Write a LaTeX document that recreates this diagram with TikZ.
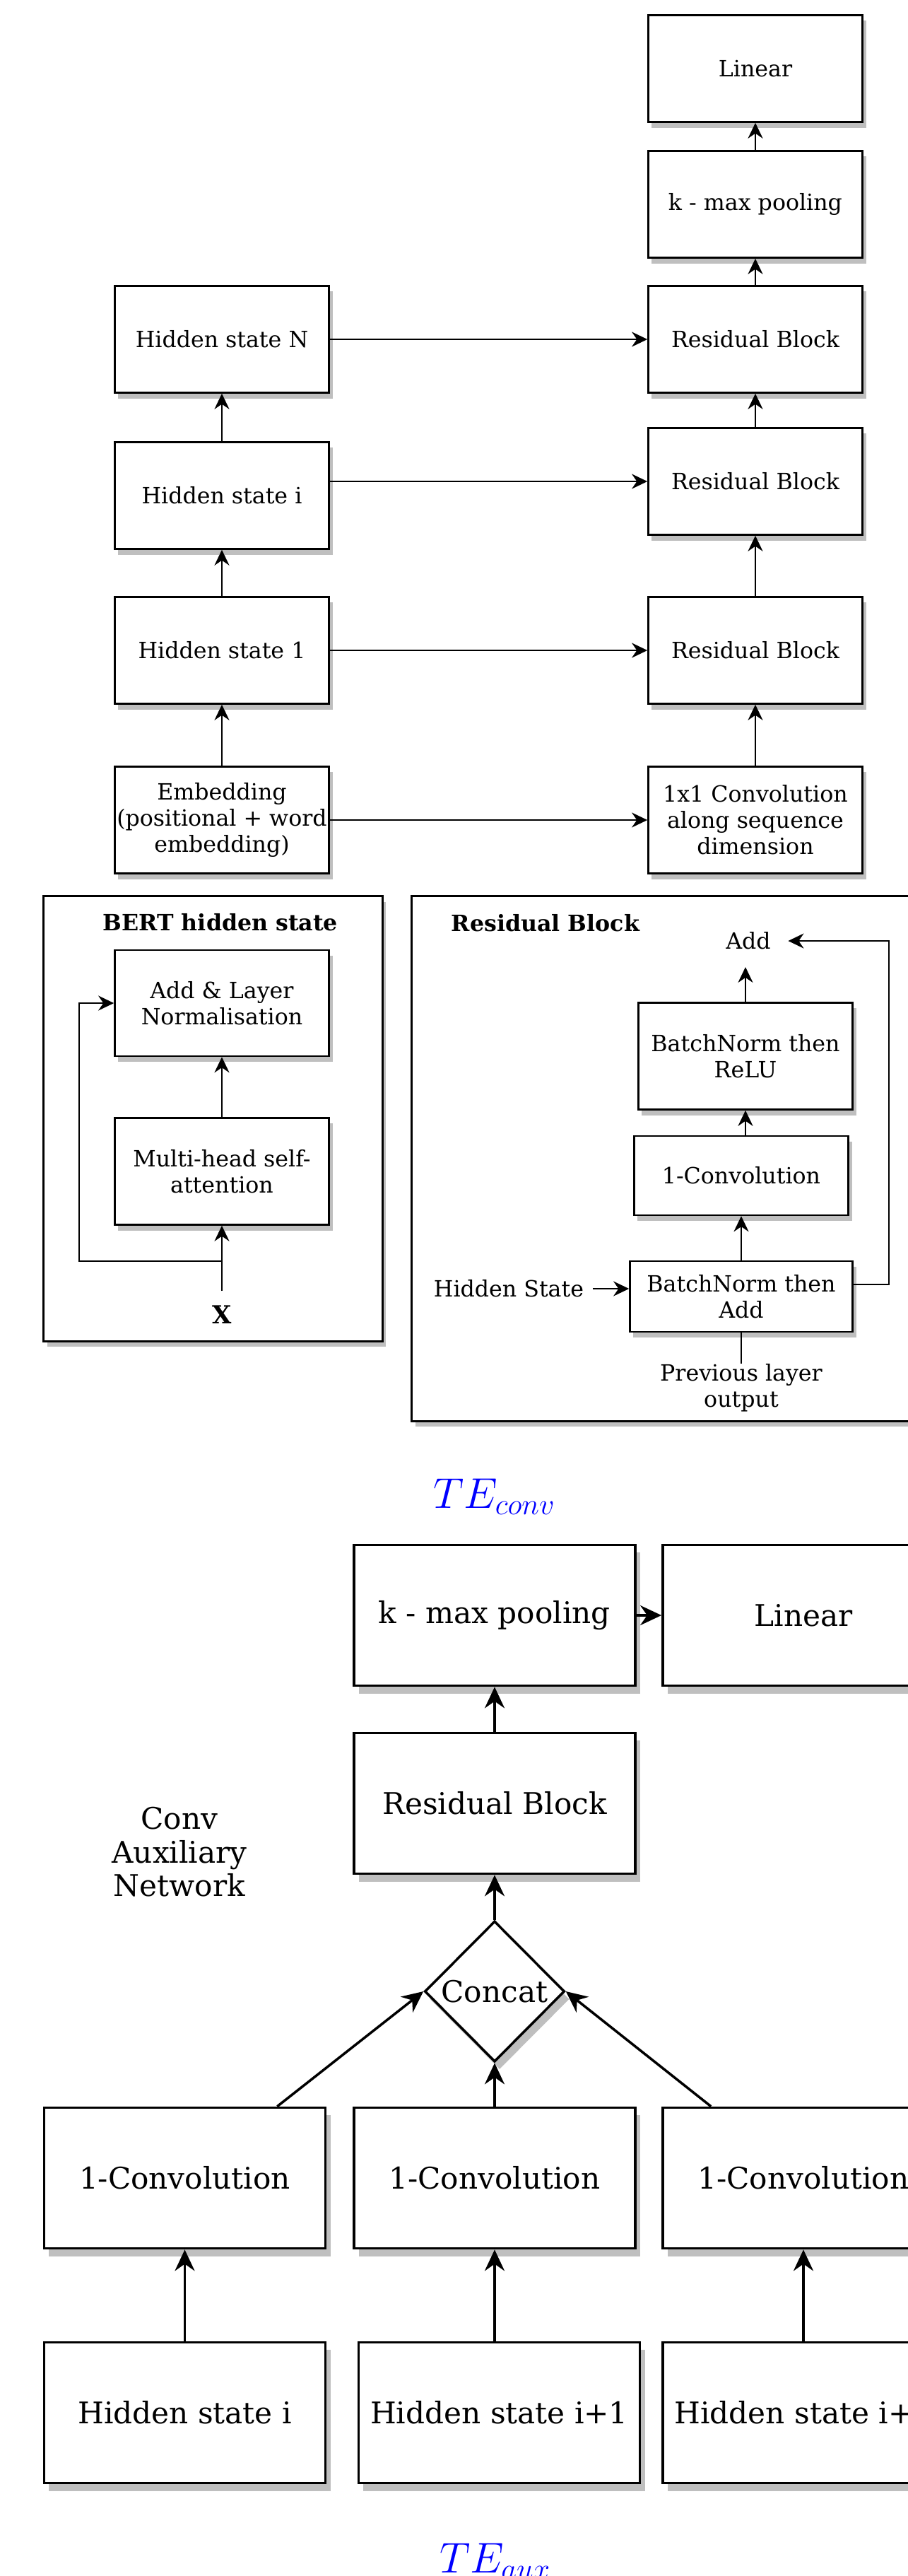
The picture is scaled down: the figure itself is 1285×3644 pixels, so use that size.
\documentclass[tikz,border=0pt]{standalone}
\usepackage{fontspec}
\setmainfont{DejaVu Serif}
\usetikzlibrary{shapes.geometric,arrows.meta,shadows,positioning}

\tikzset{
  plainbox/.style={rectangle,draw=black,fill=white,align=center,inner sep=0pt},
  box/.style={plainbox,line width=0.7pt,minimum width=3.03cm,minimum height=1.51cm,
    font=\fontsize{9}{10.5}\selectfont,
    drop shadow={shadow xshift=0.05cm,shadow yshift=-0.08cm}},
  bigbox/.style={plainbox,line width=1pt,minimum width=3.98cm,minimum height=1.99cm,
    font=\fontsize{12}{13.5}\selectfont,
    drop shadow={shadow xshift=0.07cm,shadow yshift=-0.11cm}},
  panel/.style={plainbox,line width=0.8pt,
    drop shadow={shadow xshift=0.05cm,shadow yshift=-0.08cm}},
  dmd/.style={diamond,aspect=1,draw=black,fill=white,line width=1pt,inner sep=0pt,
    minimum width=1.98cm,minimum height=1.99cm,font=\fontsize{12}{13.5}\selectfont,
    drop shadow={shadow xshift=0.07cm,shadow yshift=-0.11cm}},
  lbl/.style={align=center,font=\fontsize{9}{10.5}\selectfont},
  biglbl/.style={align=center,font=\fontsize{12}{13.5}\selectfont},
  ttl/.style={font=\bfseries\fontsize{9}{10.5}\selectfont},
  te/.style={anchor=base,text=blue,font=\fontsize{17.28}{20}\selectfont},
  arr/.style={-{Stealth[length=0.22cm,width=0.21cm]},line width=0.7pt},
  bigarr/.style={-{Stealth[length=0.3cm,width=0.28cm]},line width=1pt}
}

\begin{document}
\begin{tikzpicture}[x=0.01cm,y=-0.01cm]
\useasboundingbox (0,0) rectangle (1285,3644);
\clip (0,0) rectangle (1285,3644);
\begin{scope}
\node[box] (lin1)  at (1069,97)   {Linear};
\node[box] (kmax1) at (1069,289)  {k - max pooling};
\node[box] (resN)  at (1069,480)  {Residual Block};
\node[box] (resI)  at (1069,681)  {Residual Block};
\node[box] (res1)  at (1069,920)  {Residual Block};
\node[box] (conv1) at (1069,1160) {1x1 Convolution\\along sequence\\dimension};
\node[box] (hidN)  at (314,480)   {Hidden state N};
\node[box] (hidI)  at (314,701)   {Hidden state i};
\node[box] (hid1)  at (314,920)   {Hidden state 1};
\node[box] (emb)   at (314,1160)  {Embedding\\(positional + word\\embedding)};
\draw[arr] (emb) -- (hid1);
\draw[arr] (hid1) -- (hidI);
\draw[arr] (hidI) -- (hidN);
\draw[arr] (conv1) -- (res1);
\draw[arr] (res1) -- (resI);
\draw[arr] (resI) -- (resN);
\draw[arr] (resN) -- (kmax1);
\draw[arr] (kmax1) -- (lin1);
\draw[arr] (emb) -- (conv1);
\draw[arr] (hid1) -- (res1);
\draw[arr] (hidI.east |- resI) -- (resI);
\draw[arr] (hidN) -- (resN);
\end{scope}
\begin{scope}
\node[panel,minimum width=4.79cm,minimum height=6.29cm] (bert) at (301.5,1582.5) {};
\node[ttl] (bertttl) at (312,1305) {BERT hidden state};
\node[box,minimum height=1.5cm] (addn) at (314,1419) {Add \& Layer\\Normalisation};
\node[box] (mha) at (314,1657) {Multi-head self-\\attention};
\node[font=\bfseries\fontsize{10}{12}\selectfont,inner sep=0.2cm] (xin) at (314,1860) {X};
\coordinate (splt) at (314,1784);
\coordinate (lp) at (112,1419);
\draw[arr] (xin) -- (mha);
\draw[arr] (mha) -- (addn);
\draw[arr] (splt) -| (lp) -- (addn);
\end{scope}
\begin{scope}
\node[panel,minimum width=7.4cm,minimum height=7.42cm] (rblk) at (953,1639) {};
\node[ttl] (rblkttl) at (772,1306) {Residual Block};
\node[lbl,inner sep=0.24cm] (addt) at (1059,1331) {Add};
\node[box,minimum height=1.51cm] (bnr) at (1055,1494) {BatchNorm then\\ReLU};
\node[box,minimum height=1.12cm] (cv1) at (1049,1663) {1-Convolution};
\node[box,minimum width=3.15cm,minimum height=1cm] (bna) at (1049,1834) {BatchNorm then\\Add};
\node[lbl] (hst) at (720,1823) {Hidden State};
\node[lbl,anchor=north,inner sep=0pt] (prv) at (1049,1929) {Previous layer\\output};
\coordinate (rt) at (1258,1817);
\draw[arr] (hst) -- (hst -| bna.west);
\draw[arr] (bna) -- (cv1);
\draw[arr] (cv1.north -| bnr) -- (bnr);
\draw[arr] (bnr.north) -- (bnr.north |- addt.south);
\draw[line width=0.7pt] (prv) -- (bna);
\draw[arr] (bna.east |- rt) -- (rt) |- (addt);
\end{scope}
\begin{scope}
\node[te] (teconv) at (700,2133) {$TE_{conv}$};
\node[bigbox] (kmax2) at (700,2285) {k - max pooling};
\node[bigbox] (lin2)  at (1137,2285) {Linear};
\node[bigbox] (res4)  at (700,2551) {Residual Block};
\node[biglbl] (aux)   at (254,2620) {Conv\\Auxiliary\\Network};
\node[dmd] (dia) at (700,2817) {Concat};
\node[bigbox] (cva) at (261.5,3081) {1-Convolution};
\node[bigbox] (cvb) at (700,3081)   {1-Convolution};
\node[bigbox] (cvc) at (1137,3081)  {1-Convolution};
\node[bigbox] (ha) at (261.5,3413) {Hidden state i};
\node[bigbox] (hb) at (706.5,3413) {Hidden state i+1};
\node[bigbox] (hc) at (1137,3413)  {Hidden state i+2};
\node[te] (teaux) at (701,3639) {$TE_{aux}$};
\draw[bigarr] (ha) -- (cva);
\draw[bigarr] (hb.north -| cvb) -- (cvb);
\draw[bigarr] (hc) -- (cvc);
\draw[bigarr] ([xshift=-0.7cm]cva.north east) -- (dia.west);
\draw[bigarr] (cvb) -- (dia);
\draw[bigarr] ([xshift=0.7cm]cvc.north west) -- (dia.east);
\draw[bigarr] (dia) -- (res4);
\draw[bigarr] (res4) -- (kmax2);
\draw[bigarr] (kmax2) -- (lin2);
\end{scope}
\end{tikzpicture}
\end{document}
